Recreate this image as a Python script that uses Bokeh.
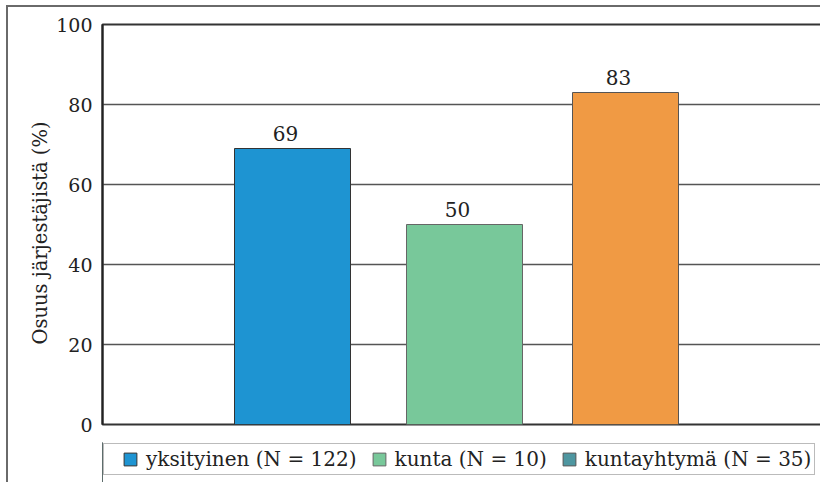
from bokeh.plotting import figure
from bokeh.layouts import column
from bokeh.models import Range1d, FixedTicker, Legend, LegendItem, Title
from bokeh.core.properties import value
from bokeh.embed import file_html
from bokeh.resources import INLINE

# ---- data ----
series = ["yksityinen (N = 122)", "kunta (N = 10)", "kuntayhtymä (N = 35)"]
values = [69, 50, 83]
bar_colors = ["#1E94D2", "#78C89A", "#F09A44"]
legend_colors = ["#1E94D2", "#78C89A", "#4E96A0"]
y_ticks = [0, 20, 40, 60, 80, 100]
y_label = "Osuus järjestäjistä (%)"

# ---- layout (positions within frame) ----
bar_centers = [190, 362, 523]
bar_widths = [116, 116, 106]
bar_outlines = ["#333333", "#666666", "#555555"]
legend_outlines = ["#333333", "#666666", "#555555"]

FONT = "DejaVu Serif"

p = figure(frame_width=724, frame_height=400,
           min_border_left=86, min_border_top=17, min_border_right=2, min_border_bottom=18,
           x_range=Range1d(0, 724), y_range=Range1d(0, 100),
           x_axis_location=None, output_backend="svg", toolbar_location=None)

p.outline_line_color = "#333333"
p.outline_line_width = 2
p.background_fill_color = "white"
p.border_fill_color = "white"

p.xgrid.visible = False
p.ygrid.ticker = FixedTicker(ticks=y_ticks)
p.ygrid.grid_line_color = "#555555"
p.ygrid.grid_line_width = 1.5

ya = p.yaxis[0]
ya.ticker = FixedTicker(ticks=y_ticks)
ya.axis_line_color = "#222222"
ya.axis_line_width = 2
ya.major_tick_line_color = None
ya.minor_tick_line_color = None
ya.major_tick_out = 0
ya.major_tick_in = 0
ya.minor_tick_out = 0
ya.major_label_text_font = FONT
ya.major_label_text_font_size = "19px"
ya.major_label_text_color = "#222222"
ya.major_label_standoff = 10

ytitle = Title(text=y_label, align="left", offset=80, standoff=4,
               text_font=FONT, text_font_size="19.5px", text_font_style="normal",
               text_color="#222222")
p.add_layout(ytitle, "left")

for i in range(len(values)):
    p.vbar(x=[bar_centers[i]], top=[values[i]], bottom=0, width=bar_widths[i],
           fill_color=bar_colors[i], line_color=bar_outlines[i], line_width=1)

p.text(x=bar_centers, y=values, text=[str(v) for v in values],
       text_font=value(FONT), text_font_size="20px", text_color="#222222",
       text_align="center", text_baseline="alphabetic", x_offset=-7, y_offset=-15)

# ---- legend strip (separate figure under the plot) ----
q = figure(frame_width=718, frame_height=40,
           min_border_left=94, min_border_top=0, min_border_right=0, min_border_bottom=0,
           x_range=Range1d(0, 1), y_range=Range1d(0, 1),
           x_axis_location=None, y_axis_location=None,
           output_backend="svg", toolbar_location=None)
q.outline_line_color = None
q.xgrid.visible = False
q.ygrid.visible = False
q.background_fill_color = "white"
q.border_fill_color = "white"

items = []
for i in range(len(series)):
    # glyphs sit outside the visible range; only their legend swatches show
    r = q.vbar(x=[-10], top=[1], width=1, fill_color=legend_colors[i], line_color=legend_outlines[i])
    items.append(LegendItem(label=series[i], renderers=[r]))

legend = Legend(items=items, orientation="horizontal", location="top_left")
legend.title = " "
legend.title_location = "left"
legend.title_text_font_size = "1px"
legend.title_standoff = 14
legend.label_text_font = FONT
legend.label_text_font_size = "20px"
legend.label_text_color = "#222222"
legend.glyph_width = 16
legend.glyph_height = 16
legend.label_standoff = 8
legend.spacing = 14
legend.padding = 3
legend.margin = 1
legend.border_line_color = "#777777"
legend.border_line_width = 1
legend.background_fill_color = "white"
legend.background_fill_alpha = 1
q.add_layout(legend, "center")

layout = column(p, q, spacing=0)
layout.styles = {"border-top": "2px solid #6a6a6a", "border-left": "2px solid #6a6a6a",
                 "margin-top": "5px", "margin-left": "6px"}

open("out.html", "w").write(file_html(layout, INLINE))
